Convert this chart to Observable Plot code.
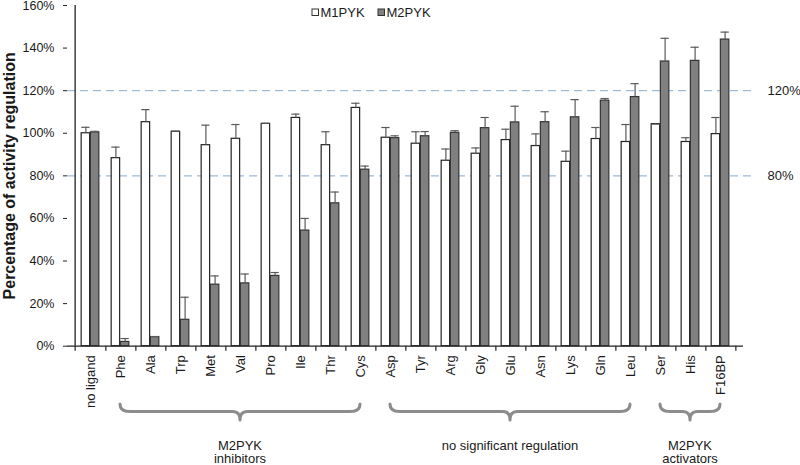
<!DOCTYPE html>
<html>
<head>
<meta charset="utf-8">
<script src="https://cdn.jsdelivr.net/npm/d3@7"></script>
<script src="https://cdn.jsdelivr.net/npm/@observablehq/plot@0.6"></script>
<style>
  html, body { margin: 0; padding: 0; background: #fff; }
  #chart svg { display: block; }
</style>
</head>
<body>
<div id="chart"></div>
<script>
// ---- data ----
const categories = ["no ligand","Phe","Ala","Trp","Met","Val","Pro","Ile","Thr","Cys","Asp","Tyr","Arg","Gly","Glu","Asn","Lys","Gln","Leu","Ser","His","F16BP"];
const seriesNames = ["M1PYK", "M2PYK"];
const m1Values = [100, 88.3, 105.2, 100.7, 94.4, 97.4, 104.4, 107.2, 94.4, 111.9, 97.9, 95.1, 87.1, 90.4, 96.8, 94.0, 86.6, 97.3, 95.9, 104.3, 95.9, 99.6];
const m1Err    = [2.8, 5.2, 5.9, 0.3, 9.4, 6.7, 0.3, 1.8, 6.3, 2.2, 4.8, 5.6, 5.5, 2.7, 5.1, 5.7, 5.0, 5.4, 8.2, 0, 2.0, 7.8];
const m2Values = [100.4, 2.0, 4.3, 12.4, 28.9, 29.5, 33.0, 54.3, 67.1, 82.9, 97.7, 98.6, 100.2, 102.4, 105.1, 105.2, 107.5, 115.3, 117.0, 133.7, 134.0, 144.0];
const m2Err    = [0.5, 1.6, 0.2, 10.6, 4.1, 4.4, 1.6, 5.7, 5.3, 1.7, 1.1, 2.2, 1.0, 5.0, 7.6, 4.9, 8.3, 1.0, 6.3, 10.9, 6.4, 3.5];
const yTicks = [0, 20, 40, 60, 80, 100, 120, 140, 160];
const refLines = [80, 120];
const yTitle = "Percentage of activity regulation";
const groups = [
  {first: "Phe", last: "Cys", lines: ["M2PYK", "inhibitors"]},
  {first: "Asp", last: "Leu", lines: ["no significant regulation"]},
  {first: "Ser", last: "F16BP", lines: ["M2PYK", "activators"]}
];

const table = categories.map((c, i) => ({cat: c, m1: m1Values[i], m1e: m1Err[i], m2: m2Values[i], m2e: m2Err[i]}));

// ---- layout ----
const W = 800, H = 465, ML = 67, MR = 57, MT = 5, MB = 119.3;
const bw = (W - ML - MR) / categories.length;
const half = 9.2;             // bar width
const cap = 4.5;              // half cap width
const pxPerUnit = (H - MT - MB) / 160;
const tickU = 5 / pxPerUnit;  // 5px x-axis tick, in data units
const FONT = "'Liberation Sans', Arial, Helvetica, sans-serif";
const errColor = "#5a5a5a";

const plot = Plot.plot({
  width: W, height: H,
  marginLeft: ML, marginRight: MR, marginTop: MT, marginBottom: MB,
  style: {fontFamily: FONT, fontSize: "13px", background: "#fff", color: "#1a1a1a", overflow: "visible"},
  x: {domain: categories, paddingInner: 0, paddingOuter: 0},
  y: {domain: [0, 160]},
  marks: [
    Plot.ruleY(refLines, {stroke: "#9fbad6", strokeWidth: 1.2, strokeDasharray: "8,5", insetRight: -10}),
    Plot.barY(table, {x: "cat", y: "m1", fill: "#fff", stroke: "#222", strokeWidth: 1.2,
      insetLeft: bw / 2 - half, insetRight: bw / 2}),
    Plot.barY(table, {x: "cat", y: "m2", fill: "#808080", stroke: "#333", strokeWidth: 1.2,
      insetLeft: bw / 2, insetRight: bw / 2 - half}),
    Plot.ruleX(table, {x: "cat", y1: "m1", y2: d => d.m1 + d.m1e, dx: -half / 2, stroke: errColor, strokeWidth: 1.2}),
    Plot.tickY(table, {x: "cat", y: d => d.m1 + d.m1e, stroke: errColor, strokeWidth: 1.2,
      insetLeft: bw / 2 - half / 2 - cap, insetRight: bw / 2 + half / 2 - cap}),
    Plot.ruleX(table, {x: "cat", y1: "m2", y2: d => d.m2 + d.m2e, dx: half / 2, stroke: errColor, strokeWidth: 1.2}),
    Plot.tickY(table, {x: "cat", y: d => d.m2 + d.m2e, stroke: errColor, strokeWidth: 1.2,
      insetLeft: bw / 2 + half / 2 - cap, insetRight: bw / 2 - half / 2 - cap}),
    // axes lines
    Plot.ruleY([0], {stroke: "#222", strokeWidth: 1.3}),
    Plot.ruleX([categories[0]], {dx: -bw / 2, y1: 0, y2: 160, stroke: "#222", strokeWidth: 1.3}),
    Plot.ruleX(categories, {x: d => d, dx: bw / 2, y1: 0, y2: -tickU, stroke: "#222", strokeWidth: 1.2}),
    Plot.ruleX([categories[0]], {dx: -bw / 2, y1: 0, y2: -tickU, stroke: "#222", strokeWidth: 1.2}),
    Plot.axisY({ticks: yTicks, tickFormat: d => d + "%", tickSize: 4, tickPadding: 9, fontSize: 12, label: null, stroke: "#222"}),
    Plot.axisX({tickSize: 0, tickPadding: 9, rotate: -90, textAnchor: "end", lineAnchor: "middle", label: null, fontSize: 13}),
    Plot.text(refLines, {y: d => d, text: d => d + "%", frameAnchor: "right", dx: 24, textAnchor: "start", fontSize: 13}),
    Plot.text([yTitle], {frameAnchor: "left", dx: -58, rotate: -90, textAnchor: "middle", fontWeight: "bold", fontSize: 16})
  ]
});

document.getElementById("chart").appendChild(plot);

const svg = d3.select(plot);
// enforce font sizes on axis labels
svg.selectAll('g[aria-label="x-axis tick label"]').attr("font-size", 13).selectAll("text").attr("font-size", 13);
svg.selectAll('g[aria-label="y-axis tick label"]').attr("font-size", 12.5).selectAll("text").attr("font-size", 12.5);

// ---- legend & group braces (annotations) ----
const xs = plot.scale("x");
const center = c => xs.apply(c) + xs.bandwidth / 2;

const leg = svg.append("g").attr("font-family", FONT).attr("font-size", 13).attr("fill", "#1a1a1a").attr("text-anchor", "start");
const legItems = [{name: seriesNames[0], fill: "#fff", x: 312}, {name: seriesNames[1], fill: "#808080", x: 378}];
legItems.forEach(it => {
  leg.append("rect").attr("x", it.x).attr("y", 9).attr("width", 6.5).attr("height", 6.5)
    .attr("fill", it.fill).attr("stroke", "#333").attr("stroke-width", 1);
  leg.append("text").attr("x", it.x + 8.5).attr("y", 12.5).attr("dy", "0.35em").attr("text-anchor", "start").text(it.name);
});

const br = svg.append("g");
groups.forEach(g => {
  const x1 = center(g.first), x2 = center(g.last), xm = (x1 + x2) / 2;
  const y0 = 404, y1 = 411.5, y2 = 420, r = 10, rc = 7;
  const p = `M${x1},${y0} Q${x1},${y1} ${x1 + r},${y1} L${xm - rc},${y1} Q${xm},${y1} ${xm},${y2} ` +
            `Q${xm},${y1} ${xm + rc},${y1} L${x2 - r},${y1} Q${x2},${y1} ${x2},${y0}`;
  br.append("path").attr("d", p).attr("fill", "none").attr("stroke", "#8c8c8c").attr("stroke-width", 3)
    .attr("stroke-linejoin", "round").attr("stroke-linecap", "round");
  g.lines.forEach((t, i) => {
    br.append("text").attr("x", xm).attr("y", 445 + i * 13.5).attr("dy", "0.35em")
      .attr("text-anchor", "middle").attr("font-family", FONT).attr("font-size", 13).attr("fill", "#1a1a1a").text(t);
  });
});
</script>
</body>
</html>
